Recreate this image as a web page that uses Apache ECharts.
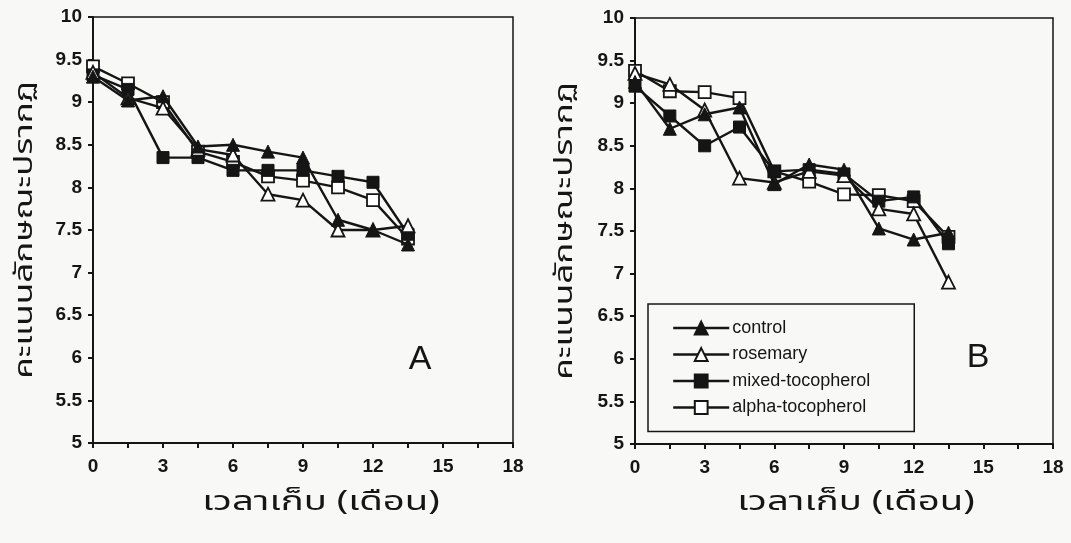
<!DOCTYPE html>
<html>
<head>
<meta charset="utf-8">
<script src="https://cdn.jsdelivr.net/npm/echarts@6/dist/echarts.min.js"></script>
<style>
html,body{margin:0;padding:0;background:#f8f8f6;}
#c{width:1071px;height:543px;}
</style>
</head>
<body>
<div id="c"></div>
<script>
const months = [0, 1.5, 3, 4.5, 6, 7.5, 9, 10.5, 12, 13.5];
const seriesNames = ['control', 'rosemary', 'mixed-tocopherol', 'alpha-tocopherol'];

const controlA  = [9.30, 9.02, 9.07, 8.48, 8.50, 8.42, 8.35, 7.62, 7.50, 7.33];
const rosemaryA = [9.35, 9.05, 8.93, 8.45, 8.38, 7.92, 7.85, 7.50, 7.50, 7.55];
const mixedA    = [9.32, 9.15, 8.35, 8.35, 8.20, 8.20, 8.20, 8.13, 8.06, 7.45];
const alphaA    = [9.42, 9.22, 9.00, 8.42, 8.30, 8.13, 8.08, 8.00, 7.85, 7.40];

const controlB  = [9.25, 8.70, 8.87, 8.95, 8.05, 8.28, 8.22, 7.53, 7.40, 7.48];
const rosemaryB = [9.35, 9.22, 8.92, 8.12, 8.07, 8.20, 8.15, 7.76, 7.70, 6.90];
const mixedB    = [9.20, 8.85, 8.50, 8.72, 8.20, 8.22, 8.17, 7.85, 7.90, 7.35];
const alphaB    = [9.38, 9.14, 9.13, 9.06, 8.20, 8.08, 7.93, 7.92, 7.85, 7.43];

const yTitle = 'คะแนนลักษณะปรากฏ';
const xTitle = 'เวลาเก็บ (เดือน)';
const panelLabels = ['A', 'B'];

const ink = '#151515';
const styles = [
  {symbol: 'triangle', fill: ink},
  {symbol: 'triangle', fill: '#ffffff'},
  {symbol: 'rect', fill: ink},
  {symbol: 'rect', fill: '#ffffff'}
];

function pairs(vals){ return months.map((m,i)=>[m, vals[i]]); }

const panelData = [[controlA, rosemaryA, mixedA, alphaA],[controlB, rosemaryB, mixedB, alphaB]];

const tickFont = {fontFamily:'Liberation Sans, Arial, sans-serif', fontWeight:'bold', fontSize:19, color:ink};

const grids = [
  {left:93, top:17, width:420, height:426, show:true, borderColor:ink, borderWidth:1.5, backgroundColor:'transparent'},
  {left:635, top:18, width:418, height:426, show:true, borderColor:ink, borderWidth:1.5, backgroundColor:'transparent'}
];

const xAxes = grids.map((g,i)=>({
  type:'value', gridIndex:i, min:0, max:18, interval:1.5,
  splitLine:{show:false},
  axisLine:{show:true, onZero:false, lineStyle:{color:ink, width:2}},
  axisTick:{show:true, inside:false, length:5, lineStyle:{color:ink, width:2}},
  axisLabel:Object.assign({margin:14, formatter:v=> (Math.abs(v%3)<1e-9 ? String(v) : '')}, tickFont)
}));
const yAxes = grids.map((g,i)=>({
  type:'value', gridIndex:i, min:5, max:10, interval:0.5,
  splitLine:{show:false},
  axisLine:{show:true, onZero:false, lineStyle:{color:ink, width:2}},
  axisTick:{show:true, inside:false, length:5, lineStyle:{color:ink, width:2}},
  axisLabel:Object.assign({margin:11}, tickFont)
}));

const series = [];
panelData.forEach((arrs, p)=>{
  arrs.forEach((vals, k)=>{
    series.push({
      name: seriesNames[k], type:'line', xAxisIndex:p, yAxisIndex:p,
      data: pairs(vals),
      symbol: styles[k].symbol, symbolSize: k<2 ? 13 : 12,
      lineStyle:{color:ink, width:2.4},
      itemStyle:{color:styles[k].fill, borderColor:ink, borderWidth: k%2===1 ? 1.8 : 1},
      z: 10 - k,
      animation:false
    });
  });
});

const thaiFont = '"Noto Sans Thai", "Loma", "Garuda", "Norasi", "DejaVu Sans", sans-serif';

const graphic = [
  {type:'text', x:27, y:230, rotation:Math.PI/2, scaleX:1.4, style:{text:yTitle, font:'25px '+thaiFont, fill:ink, textAlign:'center', textVerticalAlign:'middle'}},
  {type:'text', x:567, y:231, rotation:Math.PI/2, scaleX:1.4, style:{text:yTitle, font:'25px '+thaiFont, fill:ink, textAlign:'center', textVerticalAlign:'middle'}},
  {type:'text', x:321, y:505, scaleX:1.42, style:{text:xTitle, font:'27px '+thaiFont, fill:ink, textAlign:'center', textVerticalAlign:'middle'}},
  {type:'text', x:856, y:505, scaleX:1.42, style:{text:xTitle, font:'27px '+thaiFont, fill:ink, textAlign:'center', textVerticalAlign:'middle'}},
  {type:'text', x:420, y:360, style:{text:panelLabels[0], font:'34px "Liberation Sans", Arial, sans-serif', fill:ink, textAlign:'center', textVerticalAlign:'middle'}},
  {type:'text', x:978, y:358, style:{text:panelLabels[1], font:'34px "Liberation Sans", Arial, sans-serif', fill:ink, textAlign:'center', textVerticalAlign:'middle'}}
];

const chart = echarts.init(document.getElementById('c'), null, {renderer:'canvas'});
chart.setOption({
  backgroundColor:'#f8f8f6',
  animation:false,
  grid: grids,
  xAxis: xAxes,
  yAxis: yAxes,
  legend:{
    data: seriesNames, orient:'vertical', left:648, top:304,
    itemWidth:56, itemHeight:16, itemGap:8.5,
    padding:[15, 44, 15, 24],
    borderColor:ink, borderWidth:1.5, backgroundColor:'transparent',
    selectedMode:false,
    lineStyle:{color:ink, width:2.4},
    textStyle:{fontFamily:'Liberation Sans, Arial, sans-serif', fontSize:18, color:ink, padding:[0,0,0,-2]}
  },
  graphic: graphic,
  series: series
});
</script>
</body>
</html>
